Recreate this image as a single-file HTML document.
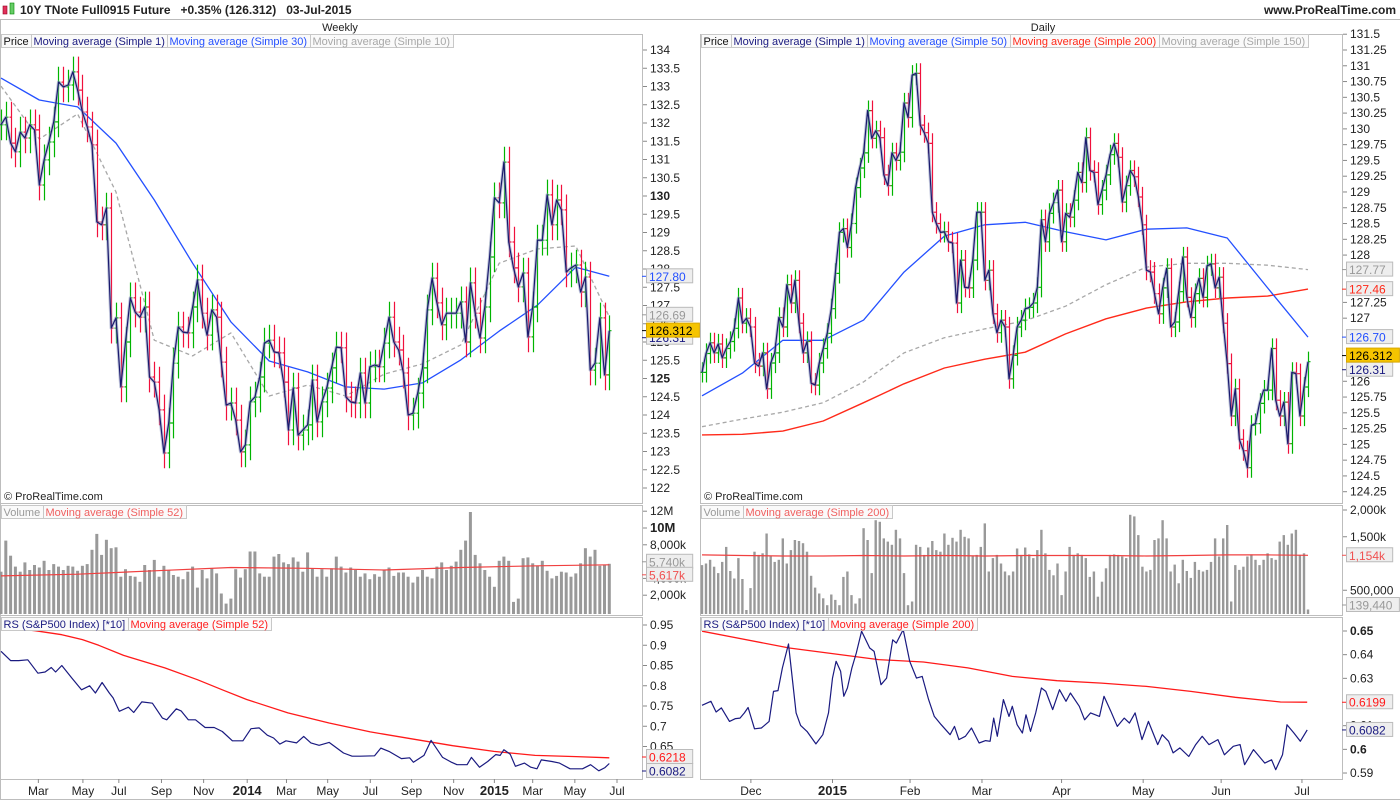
<!DOCTYPE html>
<html><head><meta charset="utf-8">
<style>
html,body{margin:0;padding:0;background:#fff;}
body{width:1400px;height:800px;overflow:hidden;font-family:"Liberation Sans",Arial,sans-serif;}
svg text{font-family:"Liberation Sans",Arial,sans-serif;}
</style></head>
<body>
<svg id="chart" width="1400" height="800" viewBox="0 0 1400 800" xmlns="http://www.w3.org/2000/svg">
<rect x="0" y="0" width="1400" height="800" fill="#fff"/>
<g>
  <rect x="3" y="6" width="4" height="8" fill="#e0305a" stroke="#902" stroke-width="0.6"/>
  <rect x="10" y="3" width="4" height="11" fill="#6c6" stroke="#080" stroke-width="0.6"/>
  <text x="20" y="14" font-size="12" font-weight="bold" fill="#222">10Y TNote Full0915 Future &#160;&#160;+0.35% (126.312) &#160;&#160;03-Jul-2015</text>
  <text x="1396" y="14" font-size="12" font-weight="bold" fill="#222" text-anchor="end">www.ProRealTime.com</text>
  <line x1="0" y1="19.5" x2="1400" y2="19.5" stroke="#bbb"/>
  <text x="340" y="31" font-size="11" fill="#222" text-anchor="middle">Weekly</text>
  <text x="1043" y="31" font-size="11" fill="#222" text-anchor="middle">Daily</text>
</g>
<g id="layer"></g>
</svg>
<script>
// ---------------- WEEKLY DATA ----------------
const wClose = [131.95,132.16,131.45,131.21,131.75,131.59,131.95,131.81,130.30,130.99,
131.48,132.03,133.12,132.99,133.04,133.40,132.90,132.30,131.89,131.40,
129.29,129.21,129.67,126.38,126.66,124.77,126.00,127.21,126.82,126.68,
126.96,125.04,124.90,124.14,122.96,123.78,125.42,126.41,126.27,126.25,
126.96,127.70,126.79,126.19,126.88,126.68,125.45,124.27,124.33,123.86,
122.99,123.18,124.36,124.49,125.04,125.97,126.05,125.73,125.70,124.90,
123.59,124.74,123.45,123.59,123.73,124.96,123.81,124.36,
124.74,125.29,125.86,125.84,124.49,124.36,124.33,125.15,124.33,125.32,
125.37,125.32,125.97,126.68,126.00,125.78,125.15,124.00,124.05,124.60,
125.29,126.88,127.75,127.07,126.47,126.79,126.79,126.79,127.10,126.00,
127.62,126.79,126.11,126.96,128.33,129.95,129.81,130.93,128.74,128.03,
127.51,127.89,126.14,126.96,128.79,128.79,130.03,129.21,129.89,129.62,
127.92,128.03,128.11,127.37,127.78,125.23,125.42,126.66,125.10,126.31];
const wMa30 = [133.23,132.63,132.44,131.45,129.89,128.16,126.55,125.48,125.18,124.77,124.71,124.88,125.51,126.30,127.01,128.05,127.80];
const wMa10 = [133.01,131.56,132.25,130.11,126.05,125.62,126.25,124.52,124.82,124.52,125.12,125.40,125.92,128.16,128.55,128.63,126.69];
const wVol = [4.8,8.5,6.7,5.4,4.8,5.9,5.0,5.6,5.3,
6.1,5.0,5.7,5.4,5.0,5.5,5.4,4.9,5.5,5.7,
7.4,9.3,6.8,8.6,7.6,7.7,4.2,5.1,4.3,4.2,
3.6,5.6,5.0,6.2,4.2,5.5,5.0,4.4,4.2,3.9,
4.8,5.4,2.9,5.0,4.0,5.2,4.6,2.2,1.0,1.6,
5.1,4.1,5.1,7.2,7.2,4.6,4.2,4.2,6.6,6.9,
5.9,5.7,6.5,6.0,4.8,7.1,5.2,4.2,5.1,4.2,
5.2,6.6,5.4,4.7,5.3,5.0,4.2,4.6,3.9,4.5,
4.2,5.0,5.3,4.3,4.7,4.7,4.2,3.5,4.2,5.0,
4.2,4.0,5.4,5.9,5.0,5.5,6.0,7.4,8.5,11.9,
6.8,5.8,5.0,4.2,3.0,6.1,6.6,6.1,1.2,1.6,
6.4,6.5,5.8,5.5,6.1,4.9,4.0,4.3,4.8,4.7,
4.2,4.6,5.8,7.6,6.6,7.4,5.5,5.6,5.74];
const wVolMa = [4.3,4.5,4.9,5.3,5.2,5.0,5.3,5.5,5.617];
const wRsIdx = [0,2,3.7,5.6,7.7,9.2,10.5,11.4,12.7,14.8,16.8,18.5,19.7,21.1,22.6,23.4,24.7,26.6,27.7,29.4,31.6,33.7,34.6,36.6,37.6,39.1,40.6,42.6,44.5,46.2,48.3,50.5,52.2,53.9,55.6,56.9,58.2,59.5,61.7,63.2,64.7,66.4,68.5,71.5,73.3,75,78,79.3,81,83.6,85.3,86.1,88.3,89.8,92.2,93.9,95.2,97.3,98.2,99.9,101.6,103.3,104.2,105,106.3,107.4,109.3,110.6,111.9,112.8,115,116.6,118.8,121.4,123.1,124.8,126.1,127];
const wRs = [0.885,0.862,0.862,0.864,0.831,0.834,0.845,0.834,0.850,0.819,0.790,0.800,0.782,0.808,0.782,0.770,0.737,0.747,0.734,0.760,0.757,0.720,0.716,0.743,0.738,0.716,0.716,0.697,0.697,0.687,0.664,0.664,0.694,0.696,0.678,0.671,0.656,0.664,0.659,0.675,0.659,0.653,0.660,0.634,0.626,0.626,0.627,0.646,0.638,0.620,0.622,0.611,0.628,0.665,0.623,0.612,0.605,0.605,0.623,0.599,0.613,0.630,0.628,0.642,0.631,0.601,0.609,0.599,0.595,0.617,0.613,0.609,0.595,0.595,0.605,0.590,0.598,0.608];
const wRsMaIdx = [0,7.1,12.7,17,20.4,25.6,34.2,41,46.2,51.3,59.9,68.5,77.1,85.7,94.3,102.9,111.5,120.1,127];
const wRsMa = [0.945,0.936,0.926,0.914,0.900,0.875,0.844,0.815,0.790,0.766,0.733,0.708,0.686,0.669,0.652,0.638,0.628,0.625,0.622];
const wMonthIdx = [7.8,17.1,24.6,33.5,42.3,51.4,59.6,68.2,77.1,85.7,94.5,103,111,119.8,128.6];
const wMonthLbl = ["Mar","May","Jul","Sep","Nov","2014","Mar","May","Jul","Sep","Nov","2015","Mar","May","Jul"];
const wPriceTicks = [134,133.5,133,132.5,132,131.5,131,130.5,130,129.5,129,128.5,128,127.5,127,126.5,126,125.5,125,124.5,124,123.5,123,122.5,122];

// ---------------- DAILY DATA ----------------
const dClose = [126.14,126.44,126.61,126.45,126.59,126.37,126.52,126.63,126.84,127.32,
126.92,127.00,126.86,126.29,126.24,126.45,125.88,126.29,126.45,127.01,
126.86,127.53,127.24,127.60,126.92,126.45,126.63,125.97,125.94,126.29,
126.52,126.76,127.15,127.71,128.36,128.42,128.12,128.50,129.07,129.38,
129.62,130.29,129.85,129.97,129.86,129.27,129.10,129.62,129.50,129.63,
130.41,130.18,130.85,130.88,130.06,129.94,129.77,128.68,128.50,128.36,
128.37,128.21,128.19,127.24,127.92,127.49,127.48,127.92,128.68,128.68,
127.60,127.76,127.07,126.77,126.97,126.86,126.04,126.41,126.86,126.97,127.15,127.17,
127.24,127.49,128.56,128.21,128.66,128.83,129.03,128.21,128.66,128.60,
128.87,129.31,129.15,129.86,129.34,129.31,128.80,129.03,129.27,129.59,
129.77,129.55,128.84,129.10,129.34,129.24,128.92,128.48,127.76,127.73,
127.39,127.07,127.48,127.79,126.86,126.94,127.42,127.97,127.33,127.01,
127.39,127.63,127.33,127.83,127.86,127.48,127.65,126.92,126.28,125.45,
125.88,125.08,124.90,124.63,125.30,125.33,125.65,125.86,125.86,126.52,
125.70,125.45,125.67,125.01,126.14,126.12,125.45,125.91,126.31];
const dMa50 = [125.77,126.13,126.65,126.65,126.97,127.73,128.30,128.48,128.52,128.37,128.24,128.41,128.43,128.27,127.48,126.70];
const dMa200 = [125.15,125.16,125.21,125.37,125.66,125.96,126.21,126.35,126.46,126.75,126.99,127.16,127.26,127.32,127.35,127.46];
const dMa150 = [125.28,125.40,125.51,125.66,125.99,126.45,126.69,126.83,126.96,127.19,127.53,127.81,127.87,127.87,127.84,127.77];
const dVol = [0.97,1.00,1.07,0.94,0.82,1.03,1.31,0.86,0.72,1.10,
0.71,0.13,0.54,1.22,1.16,1.19,1.56,1.13,1.03,1.07,
1.47,1.00,1.25,1.44,1.42,1.38,1.22,0.77,0.55,0.44,
0.35,0.22,0.42,0.32,0.22,0.75,0.85,0.41,0.25,0.35,
1.66,1.44,0.82,1.81,1.78,1.47,1.41,1.35,1.63,1.47,
0.82,0.22,0.29,1.35,1.31,1.16,1.30,1.42,1.25,1.22,
1.56,1.35,1.48,1.41,1.63,1.50,1.47,1.13,1.16,1.31,
1.75,0.85,1.10,1.16,1.00,0.85,0.78,0.85,1.28,1.16,
1.30,1.17,1.10,1.25,1.63,1.19,0.88,0.78,1.00,0.41,
0.85,1.31,1.16,1.19,1.16,1.10,0.75,0.85,0.38,0.66,
0.91,1.16,1.17,1.16,1.13,1.10,1.91,1.88,1.53,0.94,
0.85,0.88,1.44,1.47,1.81,1.47,0.85,0.98,0.63,1.07,
0.86,0.73,1.03,0.88,0.85,0.88,1.03,1.47,1.13,1.47,
1.72,0.29,0.97,0.88,0.94,1.13,1.17,1.07,0.97,1.07,
1.19,1.10,1.07,1.41,1.53,1.35,1.56,1.63,1.16,1.19,0.14];
const dVolMa = [1.16,1.15,1.14,1.14,1.15,1.14,1.15,1.14,1.15,1.15,1.15,1.14,1.15,1.16,1.16,1.154];
const dRsIdx = [0,2.2,3.5,4.8,6.8,8.3,9.4,10.5,11.4,13,14.7,16.6,17.7,18.8,19.9,21.4,23.3,24.4,26,28.2,29.9,31.3,32.3,33.2,34.3,35.1,36,37.1,38.2,39.5,41.5,42.6,44.3,45.7,47.2,48.1,49.8,51.4,53.1,54.5,56.1,57.5,59.2,61.4,62.5,63.6,65.2,66.7,68.6,70.2,71.3,72.2,73.1,74.6,76,76.8,78,79.3,80.2,81.3,82.6,84,85.1,86.8,88.5,90.1,91.2,93.4,94.7,96.2,98.4,99.5,101.2,102.8,104.5,105.8,107.2,108.9,110.5,112.8,113.9,115.5,116.6,118.3,120.5,122.2,123.8,125.5,127.7,129.3,131.5,133.2,134.3,136.5,139.3,141,142,143.7,144.8,146.5,148.1,149.8];
const dRs = [0.6186,0.6203,0.6158,0.6175,0.6118,0.6130,0.6132,0.6154,0.6177,0.6087,0.6090,0.6118,0.6245,0.6248,0.6344,0.6445,0.6154,0.6101,0.6076,0.6023,0.6062,0.6154,0.6301,0.6372,0.6330,0.6224,0.6259,0.6344,0.6407,0.6499,0.6428,0.6414,0.6273,0.6301,0.6463,0.6449,0.6506,0.6372,0.6301,0.6308,0.6210,0.6139,0.6104,0.6062,0.6097,0.6041,0.6055,0.6090,0.6027,0.6037,0.6034,0.6132,0.6055,0.6210,0.6139,0.6182,0.6104,0.6069,0.6146,0.6076,0.6154,0.6259,0.6245,0.6168,0.6252,0.6203,0.6238,0.6182,0.6125,0.6154,0.6139,0.6224,0.6161,0.6097,0.6132,0.6111,0.6154,0.6041,0.6118,0.6020,0.6062,0.6034,0.5985,0.6006,0.5970,0.6020,0.6055,0.6020,0.6041,0.5977,0.6013,0.6020,0.5935,0.5999,0.5942,0.5956,0.5914,0.5977,0.6104,0.6069,0.6034,0.6082];
const dRsMaIdx = [0,21.6,43.7,54.8,65.8,76.8,87.9,98.9,110,121,132,143.2,149.8];
const dRsMa = [0.6499,0.6428,0.6379,0.6369,0.6344,0.6308,0.6290,0.6280,0.6266,0.6245,0.6220,0.6200,0.6199];
const dMonthIdx = [12.1,32.3,51.5,69.3,89,109.2,128.5,148.5];
const dMonthLbl = ["Dec","2015","Feb","Mar","Apr","May","Jun","Jul"];
const dPriceTicks = [131.5,131.25,131,130.75,130.5,130.25,130,129.75,129.5,129.25,129,128.75,128.5,128.25,128,127.25,127,126,125.75,125.5,125.25,125,124.75,124.5,124.25];

// ---------------- SCALES ----------------
const xW = i => 1 + i * 4.79;
const xD = i => 702 + i * 4.04;
const yWP = p => 50 + (134 - p) * 36.5;
const yDP = p => 50 + (131.25 - p) * 63.1;
const yWV = m => 612 - m * 8.4;
const yDV = m => 617 - m * 53.5;
const yWR = v => 625 + (0.95 - v) * 405;
const yDR = v => 631 + (0.65 - v) * 2367;

const NS = "http://www.w3.org/2000/svg";
const layer = document.getElementById("layer");
function mk(tag, attrs, parent) {
  const el = document.createElementNS(NS, tag);
  for (const k in attrs) el.setAttribute(k, attrs[k]);
  (parent || layer).appendChild(el);
  return el;
}
function grp(name) {
  const g = mk("g", {});
  
  
  return g;
}
function txt(g, x, y, s, size, fill, anchor, weight) {
  const t = mk("text", {x: x, y: y, "font-size": size, fill: fill, "text-anchor": anchor || "start", "font-weight": weight || "normal"}, g);
  t.textContent = s;
  return t;
}

// pane frames
function frames(x0, x1, name) {
  const g = grp(name + "-frames");
  const panes = [[34, 503], [505, 615], [617, 779]];
  panes.forEach(p => {
    const r = mk("rect", {x: x0 + 0.5, y: p[0] + 0.5, width: x1 - x0, height: p[1] - p[0], fill: "none", stroke: "#bdbdbd"}, g);
    
    
  });
}
frames(0, 642, "weekly");
frames(700, 1342, "daily");
mk("line", {x1: 0, y1: 799.5, x2: 1400, y2: 799.5, stroke: "#bdbdbd"});
mk("line", {x1: 0.5, y1: 20, x2: 0.5, y2: 800, stroke: "#bdbdbd"});

// legends (drawn last so they sit on top)
function legend(x, y, items, name) {
  const g = grp(name);
  let cx = x;
  items.forEach(it => {
    const r = mk("rect", {x: cx + 0.5, y: y + 0.5, width: 10, height: 13, fill: "#fafafa", stroke: "#c8c8c8"}, g);
    
    
    const t = txt(g, cx + 2.5, y + 11, it[0], 11, it[1]);
    
    
    let w = 0;
    try { w = t.getComputedTextLength(); } catch (e) { w = it[0].length * 5.6; }
    if (!w) w = it[0].length * 5.6;
    const cw = Math.round(w + 5);
    r.setAttribute("width", cw);
    cx += cw;
  });
}

// copyright
[[4, "weekly-copyright"], [704, "daily-copyright"]].forEach(c => {
  const t = txt(layer, c[0], 500, "\u00A9 ProRealTime.com", 11, "#222");
  
  
});

// y axis ticks
function yAxis(x, ticks, yf, bold, name) {
  const g = grp(name);
  ticks.forEach(v => {
    const y = yf(v);
    const l = mk("line", {x1: x, y1: y, x2: x + 4, y2: y, stroke: "#888"}, g);
    
    
    const t = txt(g, x + 7, y + 4, String(v), 12, "#222", "start", bold.includes(v) ? "bold" : "normal");
    
    
  });
}
yAxis(643, wPriceTicks, yWP, [130, 125], "weekly-price-axis");
yAxis(1343, dPriceTicks, yDP, [], "daily-price-axis");
const wVolTicks = [12, 10, 8, 4, 2];
const wVolLbl = {12: "12M", 10: "10M", 8: "8,000k", 4: "4,000k", 2: "2,000k"};
(function () {
  const g = grp("weekly-volume-axis");
  wVolTicks.forEach(v => {
    const y = yWV(v);
    const l = mk("line", {x1: 643, y1: y, x2: 647, y2: y, stroke: "#888"}, g);
    
    
    const t = txt(g, 650, y + 4, wVolLbl[v], v === 10 ? 13 : 12, "#222", "start", v === 10 ? "bold" : "normal");
    
    
  });
})();
const dVolTicks = [2, 1.5, 0.5];
const dVolLbl = {2: "2,000k", 1.5: "1,500k", 0.5: "500,000"};
(function () {
  const g = grp("daily-volume-axis");
  dVolTicks.forEach(v => {
    const y = yDV(v);
    const l = mk("line", {x1: 1343, y1: y, x2: 1347, y2: y, stroke: "#888"}, g);
    
    
    const t = txt(g, 1350, y + 4, dVolLbl[v], 12, "#222");
    
    
  });
})();
yAxis(643, [0.95, 0.9, 0.85, 0.8, 0.75, 0.7, 0.65], yWR, [], "weekly-rs-axis");
yAxis(1343, [0.65, 0.64, 0.63, 0.61, 0.6, 0.59], yDR, [0.65, 0.6], "daily-rs-axis");

// x axis
function xAxis(idx, lbl, xf, name) {
  const g = grp(name);
  idx.forEach((v, k) => {
    const x = xf(v);
    const l = mk("line", {x1: x, y1: 779, x2: x, y2: 783, stroke: "#888"}, g);
    
    
    const isYear = /^\d{4}$/.test(lbl[k]);
    const t = txt(g, x, 795, lbl[k], isYear ? 13 : 12, "#222", "middle", isYear ? "bold" : "normal");
    
    
  });
}
xAxis(wMonthIdx, wMonthLbl, xW, "weekly-x-axis");
xAxis(dMonthIdx, dMonthLbl, xD, "daily-x-axis");

// polyline helper
function line(pts, stroke, width, dash, name, parent) {
  const p = mk("polyline", {points: pts.map(q => q[0].toFixed(1) + "," + q[1].toFixed(1)).join(" "), fill: "none", stroke: stroke, "stroke-width": width, "stroke-linejoin": "round"}, parent);
  if (dash) p.setAttribute("stroke-dasharray", dash);
  
  
  return p;
}
function sampled(arr, step, n, xf, yf) {
  return arr.map((v, k) => [xf(Math.min(k * step, n - 1)), yf(v)]);
}

// price bars
function priceBars(close, xf, yf, pad, name) {
  const g = grp(name);
  close.forEach((c, i) => {
    const o = i > 0 ? close[i - 1] : c;
    const hi = Math.max(o, c) + pad, lo = Math.min(o, c) - pad;
    const col = c >= o ? "#00b400" : "#f0103c";
    const x = Math.round(xf(i)) + 0.5;
    const b = mk("path", {d: "M" + x + " " + yf(hi).toFixed(1) + "V" + yf(lo).toFixed(1) + "M" + (x - 2) + " " + yf(o).toFixed(1) + "H" + x + "M" + x + " " + yf(c).toFixed(1) + "H" + (x + 2), stroke: col, "stroke-width": 1.2, fill: "none"}, g);
    
    
  });
  const pts = close.map((c, i) => [xf(i), yf(c)]);
  line(pts, "rgba(140,150,190,0.55)", 3.2, null, "close-line-halo", g);
  line(pts, "#1a1a6e", 1.2, null, "close-line-sma1", g);
}

// weekly price
const gw = grp("weekly-moving-averages");
line(sampled(wMa10, 8, wClose.length, xW, yWP), "#a8a8a8", 1.3, "4,3", "weekly-ma10-line", gw);
priceBars(wClose, xW, yWP, 0.42, "weekly-price-bars");
line(sampled(wMa30, 8, wClose.length, xW, yWP), "#2450ff", 1.3, null, "weekly-ma30-line", gw);

// daily price
const gd = grp("daily-moving-averages");
line(sampled(dMa150, 10, dClose.length, xD, yDP), "#a8a8a8", 1.3, "4,3", "daily-ma150-line", gd);
line(sampled(dMa200, 10, dClose.length, xD, yDP), "#ff2a1a", 1.4, null, "daily-ma200-line", gd);
priceBars(dClose, xD, yDP, 0.16, "daily-price-bars");
line(sampled(dMa50, 10, dClose.length, xD, yDP), "#2450ff", 1.3, null, "daily-ma50-line", gd);

// volume
function volBars(vol, xf, yf, base, w, name) {
  const g = grp(name);
  vol.forEach((v, i) => {
    const x = xf(i), y = yf(v);
    const r = mk("rect", {x: (x - w / 2).toFixed(1), y: y.toFixed(1), width: w, height: (base - y).toFixed(1), fill: "#999"}, g);
    
    
  });
}
volBars(wVol, xW, yWV, 614, 3, "weekly-volume-bars");
volBars(dVol, xD, yDV, 614, 2.4, "daily-volume-bars");
line(sampled(wVolMa, 16, wVol.length, xW, yWV), "#f04040", 1.2, null, "weekly-volume-ma52", layer);
line(sampled(dVolMa, 10, dVol.length, xD, yDV), "#f04040", 1.2, null, "daily-volume-ma200", layer);

// RS
line(wRsMaIdx.map((t, k) => [xW(t), yWR(wRsMa[k])]), "#ff1a1a", 1.3, null, "weekly-rs-ma52", layer);
line(wRsIdx.map((t, k) => [xW(t), yWR(wRs[k])]), "#1a1a80", 1.2, null, "weekly-rs-line", layer);
line(dRsMaIdx.map((t, k) => [xD(t), yDR(dRsMa[k])]), "#ff1a1a", 1.3, null, "daily-rs-ma200", layer);
line(dRsIdx.map((t, k) => [xD(t), yDR(dRs[k])]), "#1a1a80", 1.2, null, "daily-rs-line", layer);

// legends on top
legend(1, 34, [["Price", "#111"], ["Moving average (Simple 1)", "#1a1a80"], ["Moving average (Simple 30)", "#2450ff"], ["Moving average (Simple 10)", "#a8a8a8"]], "weekly-price-legend");
legend(701, 34, [["Price", "#111"], ["Moving average (Simple 1)", "#1a1a80"], ["Moving average (Simple 50)", "#2450ff"], ["Moving average (Simple 200)", "#ff2a1a"], ["Moving average (Simple 150)", "#a8a8a8"]], "daily-price-legend");
legend(1, 505, [["Volume", "#999"], ["Moving average (Simple 52)", "#f06060"]], "weekly-volume-legend");
legend(701, 505, [["Volume", "#999"], ["Moving average (Simple 200)", "#f06060"]], "daily-volume-legend");
legend(1, 617, [["RS (S&P500 Index) [*10]", "#1a1a80"], ["Moving average (Simple 52)", "#ff2020"]], "weekly-rs-legend");
legend(701, 617, [["RS (S&P500 Index) [*10]", "#1a1a80"], ["Moving average (Simple 200)", "#ff2020"]], "daily-rs-legend");

// value tags
function tag(x, y, s, fill, color, border, name) {
  const g = grp(name);
  const w = s.length * 6.7 + 6;
  const r = mk("rect", {x: x + 0.5, y: y - 7.5, width: w, height: 14, fill: fill, stroke: border}, g);
  
  
  const t = txt(g, x + 3, y + 4.5, s, 12, color);
  
  
  const l = mk("line", {x1: x - 4, y1: y, x2: x, y2: y, stroke: color}, g);
  
  
}
tag(646, yWP(wMa30[wMa30.length - 1]), "127.80", "#eee", "#2450ff", "#bbb", "weekly-ma30-tag");
tag(646, yWP(126.31) + 7, "126.31", "#eee", "#1a1a80", "#bbb", "weekly-sma1-tag");
tag(646, yWP(wMa10[wMa10.length - 1]) - 2, "126.69", "#eee", "#999", "#bbb", "weekly-ma10-tag");
tag(646, yWP(126.312), "126.312", "#f5c400", "#000", "#d9a800", "weekly-last-price-tag");
tag(1346, yDP(dMa150[dMa150.length - 1]), "127.77", "#eee", "#999", "#bbb", "daily-ma150-tag");
tag(1346, yDP(dMa200[dMa200.length - 1]), "127.46", "#eee", "#ff2a1a", "#bbb", "daily-ma200-tag");
tag(1346, yDP(dMa50[dMa50.length - 1]), "126.70", "#eee", "#2450ff", "#bbb", "daily-ma50-tag");
tag(1346, yDP(126.31) + 8, "126.31", "#eee", "#1a1a80", "#bbb", "daily-sma1-tag");
tag(1346, yDP(126.312) - 6, "126.312", "#f5c400", "#000", "#d9a800", "daily-last-price-tag");
tag(646, yWV(5.74) - 2, "5,740k", "#eee", "#999", "#bbb", "weekly-volume-tag");
tag(646, yWV(5.617) + 10, "5,617k", "#eee", "#f05050", "#bbb", "weekly-volume-ma-tag");
tag(1346, yDV(1.154), "1,154k", "#eee", "#f05050", "#bbb", "daily-volume-ma-tag");
tag(1346, 605, "139,440", "#eee", "#999", "#bbb", "daily-volume-tag");
tag(646, 757, "0.6218", "#eee", "#ff1a1a", "#bbb", "weekly-rs-ma-tag");
tag(646, 771, "0.6082", "#eee", "#1a1a80", "#bbb", "weekly-rs-tag");
tag(1346, yDR(0.6199), "0.6199", "#eee", "#ff1a1a", "#bbb", "daily-rs-ma-tag");
tag(1346, yDR(0.6082), "0.6082", "#eee", "#1a1a80", "#bbb", "daily-rs-tag");
</script>
</body></html>
